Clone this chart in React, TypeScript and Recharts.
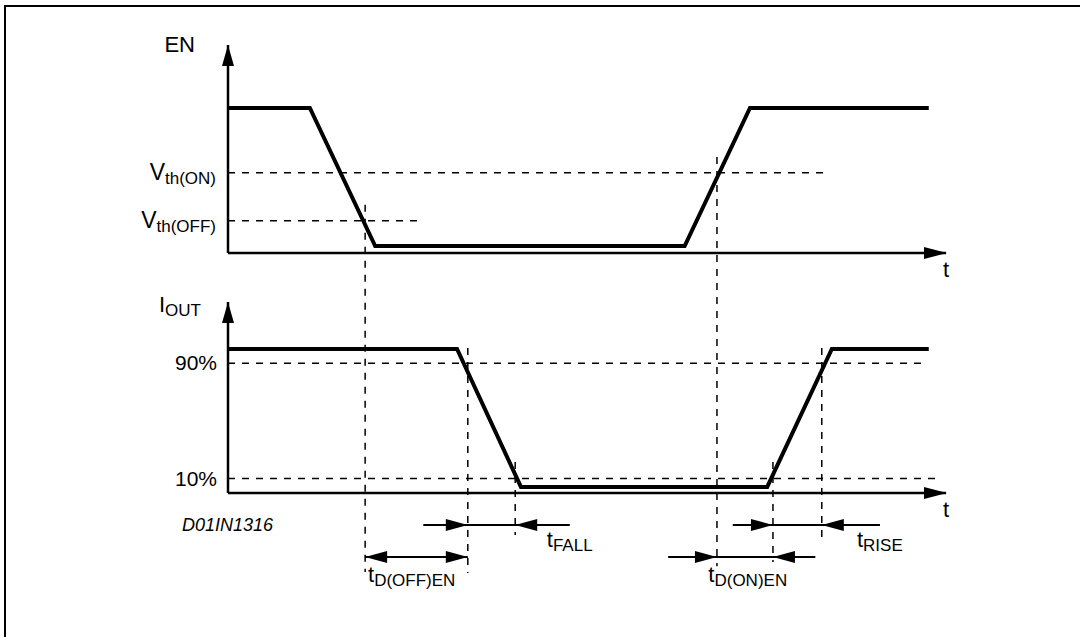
import React from 'react';
import { ComposedChart, Line, XAxis, YAxis, ReferenceLine, ReferenceDot } from 'recharts';

const W = 1080;
const H = 637;
const FONT = '"Liberation Sans", Arial, Helvetica, sans-serif';

// time runs 0..100 (arbitrary units) on both panels
const EN_T = [0, 11.4, 20.5, 63.6, 72.7, 97.6];
const EN_V = [5, 5, 0.24, 0.24, 5, 5];
const EN_MAX = 7.17;
const VTH_LEVELS = [2.77, 1.11];
const VTH_SUBS = ['th(ON)', 'th(OFF)'];
const VTH_END = [83.7, 27.3];

const IOUT_T = [0, 31.9, 40.8, 75.1, 84.1, 97.6];
const IOUT_V = [100, 100, 4.2, 4.2, 100, 100];
const IOUT_MAX = 132.6;
const PCT_LEVELS = [90, 10];
const PCT_LABELS = ['90%', '10%'];
const PCT_END = [97.4, 99.2];

// vertical guide lines (EN crossings in EN units, IOUT crossings in IOUT units)
const EN_GUIDE_T = [19.1, 68.1];
const EN_GUIDE_TOP = [1.66, 3.31];
const EN_GUIDE_BOTTOM = [-11.0, -10.8];
const IOUT_GUIDE_T = [33.4, 40.0, 75.9, 82.7];
const IOUT_GUIDE_TOP = [100.7, 21.5, 21.5, 100.7];
const IOUT_GUIDE_BOTTOM = [-55.6, -29.2, -47.9, -32.6];

// timing dimension marks (below the IOUT axis)
const TIMING_SUBS = ['FALL', 'D(OFF)EN', 'RISE', 'D(ON)EN'];
const TIMING_FROM = [33.4, 19.1, 75.9, 68.1];
const TIMING_TO = [40.0, 33.4, 82.7, 75.9];
const TIMING_LINE_START = [27.2, 19.1, 70.3, 61.3];
const TIMING_LINE_END = [47.6, 33.4, 90.8, 81.8];
const TIMING_OUTWARD = [false, true, false, false];
const TIMING_ROW = [-22.2, -44.4, -22.2, -44.4];
const TIMING_LABEL_T = [44.4, 19.5, 87.6, 66.9];
const TIMING_LABEL_ROW = [-37.5, -61.8, -37.5, -61.8];

const enData = EN_T.map((t, i) => ({ t, v: EN_V[i] }));
const ioutData = IOUT_T.map((t, i) => ({ t, v: IOUT_V[i] }));

const SubText = ({ x, y, main, sub, anchor = 'start', size = 22, subSize = 17 }: any) => (
  <text x={x} y={y} textAnchor={anchor} fontFamily={FONT} fontSize={size} fill="#000">
    {main}
    <tspan fontSize={subSize} dy={4}>{sub}</tspan>
  </text>
);

const head = (dir: string, cx: number, cy: number, len = 22, half = 6) => {
  let d = '';
  if (dir === 'right') d = `M${cx},${cy} L${cx - len},${cy - half} L${cx - len},${cy + half} Z`;
  if (dir === 'left') d = `M${cx},${cy} L${cx + len},${cy - half} L${cx + len},${cy + half} Z`;
  if (dir === 'up') d = `M${cx},${cy} L${cx - half},${cy + len} L${cx + half},${cy + len} Z`;
  return <path d={d} fill="#000" stroke="none" />;
};

const arrowShape = (dir: string) => (p: any) => head(dir, p.cx, p.cy);

const yArrow = (main: string, sub: string, dx: number, dy: number) => (p: any) => (
  <g>
    {head('up', p.cx, p.cy, 21, 6)}
    <SubText x={p.cx + dx} y={p.cy + dy} main={main} sub={sub} anchor="end" />
  </g>
);

const xArrow = (p: any) => (
  <g>
    {head('right', p.cx + 1, p.cy, 23, 6)}
    <text x={p.cx} y={p.cy + 23.5} textAnchor="middle" fontFamily={FONT} fontSize={22} fill="#000">t</text>
  </g>
);

const labelShape = (sub: string) => (p: any) => <SubText x={p.cx} y={p.cy} main="t" sub={sub} />;

// threshold names sit on the dashed lines, left of the axis
const vthLabel = (i: number) => (p: any) => {
  const vb = p.viewBox || {};
  return <SubText x={vb.x - 12} y={vb.y + 7.5} main="V" sub={VTH_SUBS[i]} anchor="end" size={23} />;
};

const pctLabel = (i: number) => (p: any) => {
  const vb = p.viewBox || {};
  return (
    <text x={vb.x - 11} y={vb.y + 7} textAnchor="end" fontFamily={FONT} fontSize={21} fill="#000">
      {PCT_LABELS[i]}
    </text>
  );
};

const dash = { stroke: '#000', strokeWidth: 1.5, strokeDasharray: '7 7' };
const axis = { stroke: '#000', strokeWidth: 2.5 };

export default function App() {
  return (
    <div style={{ position: 'absolute', left: 0, top: 0, width: W, height: H, background: '#fff', overflow: 'hidden' }}>
      <div style={{ position: 'absolute', left: 4, top: 5, width: W, height: H, borderTop: '2px solid #000', borderLeft: '2px solid #000' }} />
      <div
        style={{
          position: 'absolute', left: 182, top: 516, fontFamily: FONT, fontStyle: 'italic',
          fontSize: 18, lineHeight: '18px', color: '#000',
        }}
      >
        D01IN1316
      </div>

      <div style={{ position: 'absolute', left: 0, top: 0 }}>
        <ComposedChart width={W} height={H} data={enData} margin={{ top: 45, right: 134, bottom: 384, left: 228 }}>
          <XAxis dataKey="t" type="number" domain={[0, 100]} allowDataOverflow hide />
          <YAxis type="number" domain={[0, EN_MAX]} allowDataOverflow hide />
          <ReferenceLine segment={[{ x: 0, y: 0 }, { x: 100, y: 0 }]} {...axis} ifOverflow="visible" />
          <ReferenceLine segment={[{ x: 0, y: 0 }, { x: 0, y: EN_MAX }]} {...axis} ifOverflow="visible" />
          {VTH_LEVELS.map((v, i) => (
            <ReferenceLine
              key={'vth' + i}
              segment={[{ x: 0, y: v }, { x: VTH_END[i], y: v }]}
              {...dash}
              ifOverflow="visible"
              label={{ position: 'insideLeft', content: vthLabel(i) }}
            />
          ))}
          {EN_GUIDE_T.map((t, i) => (
            <ReferenceLine key={'eg' + i} segment={[{ x: t, y: EN_GUIDE_TOP[i] }, { x: t, y: EN_GUIDE_BOTTOM[i] }]} {...dash} ifOverflow="visible" />
          ))}
          <Line dataKey="v" type="linear" stroke="#000" strokeWidth={4} strokeLinejoin="miter" dot={false} activeDot={false} isAnimationActive={false} />
          <ReferenceDot x={0} y={EN_MAX} r={0} ifOverflow="visible" shape={yArrow('EN', '', -33, 7)} />
          <ReferenceDot x={100} y={0} r={0} ifOverflow="visible" shape={xArrow} />
        </ComposedChart>
      </div>

      <div style={{ position: 'absolute', left: 0, top: 0 }}>
        <ComposedChart width={W} height={H} data={ioutData} margin={{ top: 302, right: 134, bottom: 144, left: 228 }}>
          <XAxis dataKey="t" type="number" domain={[0, 100]} allowDataOverflow hide />
          <YAxis type="number" domain={[0, IOUT_MAX]} allowDataOverflow hide />
          <ReferenceLine segment={[{ x: 0, y: 0 }, { x: 100, y: 0 }]} {...axis} ifOverflow="visible" />
          <ReferenceLine segment={[{ x: 0, y: 0 }, { x: 0, y: IOUT_MAX }]} {...axis} ifOverflow="visible" />
          {PCT_LEVELS.map((v, i) => (
            <ReferenceLine
              key={'pct' + i}
              segment={[{ x: 0, y: v }, { x: PCT_END[i], y: v }]}
              {...dash}
              ifOverflow="visible"
              label={{ position: 'insideLeft', content: pctLabel(i) }}
            />
          ))}
          {IOUT_GUIDE_T.map((t, i) => (
            <ReferenceLine key={'ig' + i} segment={[{ x: t, y: IOUT_GUIDE_TOP[i] }, { x: t, y: IOUT_GUIDE_BOTTOM[i] }]} {...dash} ifOverflow="visible" />
          ))}
          {TIMING_SUBS.map((s, i) => (
            <ReferenceLine
              key={'tl' + i}
              segment={[{ x: TIMING_LINE_START[i], y: TIMING_ROW[i] }, { x: TIMING_LINE_END[i], y: TIMING_ROW[i] }]}
              stroke="#000" strokeWidth={2} ifOverflow="visible"
            />
          ))}
          {TIMING_SUBS.map((s, i) => (
            <ReferenceDot
              key={'ta' + i} x={TIMING_FROM[i]} y={TIMING_ROW[i]} r={0} ifOverflow="visible"
              shape={arrowShape(TIMING_OUTWARD[i] ? 'left' : 'right')}
            />
          ))}
          {TIMING_SUBS.map((s, i) => (
            <ReferenceDot
              key={'tb' + i} x={TIMING_TO[i]} y={TIMING_ROW[i]} r={0} ifOverflow="visible"
              shape={arrowShape(TIMING_OUTWARD[i] ? 'right' : 'left')}
            />
          ))}
          {TIMING_SUBS.map((s, i) => (
            <ReferenceDot key={'tt' + i} x={TIMING_LABEL_T[i]} y={TIMING_LABEL_ROW[i]} r={0} ifOverflow="visible" shape={labelShape(s)} />
          ))}
          <Line dataKey="v" type="linear" stroke="#000" strokeWidth={4} strokeLinejoin="miter" dot={false} activeDot={false} isAnimationActive={false} />
          <ReferenceDot x={0} y={IOUT_MAX} r={0} ifOverflow="visible" shape={yArrow('I', 'OUT', -27, 10)} />
          <ReferenceDot x={100} y={0} r={0} ifOverflow="visible" shape={xArrow} />
        </ComposedChart>
      </div>
    </div>
  );
}
